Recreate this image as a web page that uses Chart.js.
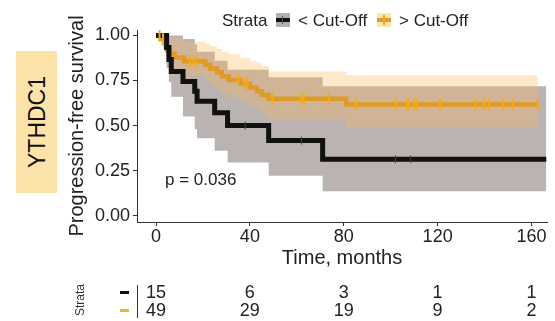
<!DOCTYPE html>
<html><head><meta charset="utf-8">
<script src="https://cdn.jsdelivr.net/npm/chart.js@4.4.1/dist/chart.umd.min.js"></script>
<style>
html,body{margin:0;padding:0;background:#fff;}
#wrap{position:relative;width:555px;height:321px;overflow:hidden;font-family:'Liberation Sans',Arial,sans-serif;color:#222;}
#c{position:absolute;left:0;top:0;}
.abs{position:absolute;white-space:nowrap;}
</style></head><body>
<div id="wrap">
<canvas id="c" width="555" height="321"></canvas>
<div class="abs" style="left:16px;top:51px;width:41px;height:142px;background:#fde3aa;"></div>
<div class="abs" style="left:37px;top:122px;transform:translate(-50%,-50%) rotate(-90deg);font-size:23px;color:#111;">YTHDC1</div>
<div class="abs" style="left:222px;top:11px;font-size:17px;line-height:20px;">Strata</div>
<div class="abs" style="left:276px;top:13px;width:14px;height:14px;background:#b3adab;">
  <div class="abs" style="left:0;top:5px;width:14px;height:4px;background:#111;"></div>
  <div class="abs" style="left:6px;top:3px;width:1px;height:8px;background:#555;"></div>
</div>
<div class="abs" id="lg1" style="left:298px;top:11px;font-size:17px;line-height:20px;"></div>
<div class="abs" style="left:377px;top:13px;width:14px;height:14px;background:#fde3b8;">
  <div class="abs" style="left:0;top:5px;width:14px;height:4px;background:#e39b22;"></div>
  <div class="abs" style="left:6px;top:2px;width:2px;height:10px;background:#f5aa1c;"></div>
</div>
<div class="abs" id="lg2" style="left:399px;top:11px;font-size:17px;line-height:20px;"></div>
<div class="abs" style="left:165px;top:170px;font-size:17px;line-height:20px;">p = 0.036</div>
<div class="abs" style="left:80px;top:300px;transform:translate(-50%,-50%) rotate(-90deg);font-size:12px;color:#333;">Strata</div>
<div class="abs" style="left:120px;top:291px;width:9px;height:3px;background:#111;"></div>
<div class="abs" style="left:120px;top:309px;width:9px;height:3px;background:#f6b236;"></div>
<div class="abs" style="left:137px;top:285px;width:1px;height:33px;background:#333;"></div>
<div id="risk"></div>
</div>
<script>
// ---- data ----
const strataNames = ['< Cut-Off', '> Cut-Off'];
const xTickVals = [0, 40, 80, 120, 160];
const yTickVals = [0, 0.25, 0.5, 0.75, 1];
const riskTimes = [0, 40, 80, 120, 160];
const riskLow = [15, 6, 3, 1, 1];
const riskHigh = [49, 29, 19, 9, 2];

const lowTimes = [0, 4.5, 5.5, 6.5, 11.5, 16.5, 17.5, 25, 30.5, 48, 71];
const lowSurv  = [1, 0.933, 0.867, 0.8, 0.745, 0.69, 0.635, 0.571, 0.5, 0.417, 0.3125];
const lowUpper = [1, 1, 1, 1, 0.98, 0.95, 0.91, 0.86, 0.81, 0.768, 0.718];
const lowLower = [1, 0.82, 0.74, 0.66, 0.55, 0.48, 0.43, 0.36, 0.295, 0.221, 0.135];
const lowEnd = 166.3;
const lowCensor = [38, 62, 102, 108.5];

const highTimes = [0, 2, 3.5, 4.2, 4.8, 6, 8, 12, 21, 23, 26, 28, 31, 36, 40, 43, 45, 48, 81];
const highSurv  = [1, 0.98, 0.959, 0.939, 0.918, 0.898, 0.878, 0.857, 0.837, 0.816, 0.795, 0.774, 0.753, 0.732, 0.711, 0.69, 0.669, 0.648, 0.617];
const highUpper = [1, 1, 1, 1, 1, 0.99, 0.98, 0.965, 0.955, 0.94, 0.925, 0.91, 0.895, 0.875, 0.86, 0.845, 0.83, 0.80, 0.779];
const highLower = [1, 0.94, 0.905, 0.875, 0.85, 0.825, 0.8, 0.775, 0.75, 0.725, 0.7, 0.68, 0.655, 0.635, 0.61, 0.59, 0.565, 0.535, 0.49];
const highEnd = 162.7;
const highCensor = [1.5, 3, 14.5, 16, 17.3, 35, 38, 39, 49.6, 62, 63, 73.6, 85, 102, 107, 107.6, 110, 111, 121, 136, 140, 142, 148, 152, 162.7];

// ---- helpers ----
function stepPts(times, vals, end) {
  const p = times.map((t, i) => ({x: t, y: vals[i]}));
  p.push({x: end, y: vals[vals.length - 1]});
  return p;
}
function survAt(times, vals, t) {
  let v = vals[0];
  for (let i = 0; i < times.length; i++) if (times[i] <= t) v = vals[i];
  return v;
}
document.getElementById('lg1').textContent = strataNames[0];
document.getElementById('lg2').textContent = strataNames[1];

const FONT = "'Liberation Sans', Arial, sans-serif";
const lineBase = {type: 'line', showLine: true, pointRadius: 0, stepped: 'before', tension: 0};

const chart = new Chart(document.getElementById('c'), {
  type: 'line',
  data: {
    datasets: [
      {type: 'scatter', showLine: false, data: lowCensor.map(t => ({x: t, y: survAt(lowTimes, lowSurv, t)})),
       pointStyle: 'line', rotation: 90, pointRadius: 4, borderColor: '#444', borderWidth: 1},
      {type: 'scatter', showLine: false, data: highCensor.map(t => ({x: t, y: survAt(highTimes, highSurv, t)})),
       pointStyle: 'line', rotation: 90, pointRadius: 6, borderColor: '#f5aa1c', borderWidth: 2},
      Object.assign({}, lineBase, {data: stepPts(lowTimes, lowSurv, lowEnd), borderColor: '#111', borderWidth: 5, fill: false}),
      Object.assign({}, lineBase, {data: stepPts(highTimes, highSurv, highEnd), borderColor: '#e09a26', borderWidth: 4.5, fill: false}),
      Object.assign({}, lineBase, {data: stepPts(highTimes, highUpper, highEnd), borderWidth: 0, borderColor: 'rgba(0,0,0,0)', fill: 5, backgroundColor: 'rgba(249,186,90,0.33)'}),
      Object.assign({}, lineBase, {data: stepPts(highTimes, highLower, highEnd), borderWidth: 0, borderColor: 'rgba(0,0,0,0)', fill: false}),
      Object.assign({}, lineBase, {data: stepPts(lowTimes, lowUpper, lowEnd), borderWidth: 0, borderColor: 'rgba(0,0,0,0)', fill: 7, backgroundColor: 'rgba(45,25,20,0.33)'}),
      Object.assign({}, lineBase, {data: stepPts(lowTimes, lowLower, lowEnd), borderWidth: 0, borderColor: 'rgba(0,0,0,0)', fill: false})
    ]
  },
  options: {
    responsive: false, animation: false, devicePixelRatio: 1,
    layout: {padding: {left: 62, top: 30, right: 8, bottom: 49}},
    plugins: {legend: {display: false}, tooltip: {enabled: false}},
    scales: {
      x: {
        type: 'linear', min: -8.1, max: 166.6,
        afterBuildTicks: s => { s.ticks = xTickVals.map(v => ({value: v})); },
        afterFit: s => { s.height = 50; },
        grid: {drawOnChartArea: false, drawTicks: true, tickLength: 4, color: '#333'},
        border: {display: true, color: '#333', width: 1},
        ticks: {font: {family: FONT, size: 18}, color: '#222', padding: 0, maxRotation: 0},
        title: {display: true, text: 'Time, months', font: {family: FONT, size: 20}, color: '#222', padding: {top: 0, bottom: 2}}
      },
      y: {
        type: 'linear', min: -0.035, max: 1.03,
        afterBuildTicks: s => { s.ticks = yTickVals.map(v => ({value: v})); },
        afterFit: s => { s.width = 75; },
        grid: {drawOnChartArea: false, drawTicks: true, tickLength: 4, color: '#333'},
        border: {display: true, color: '#333', width: 1},
        ticks: {font: {family: FONT, size: 18}, color: '#222', padding: 3, callback: v => Number(v).toFixed(2)},
        title: {display: true, text: 'Progression-free survival', font: {family: FONT, size: 20}, color: '#222', padding: {top: 3, bottom: 0}}
      }
    }
  }
});

// risk table positioned through the x scale
const risk = document.getElementById('risk');
const xs = chart.scales.x;
riskTimes.forEach((t, i) => {
  [[riskLow[i], 292], [riskHigh[i], 310]].forEach(([n, yc]) => {
    const d = document.createElement('div');
    d.className = 'abs';
    d.style.cssText = 'left:' + xs.getPixelForValue(t) + 'px;top:' + yc + 'px;transform:translate(-50%,-50%);font-size:18px;line-height:18px;color:#222;';
    d.textContent = n;
    risk.appendChild(d);
  });
});
</script>
</body></html>
